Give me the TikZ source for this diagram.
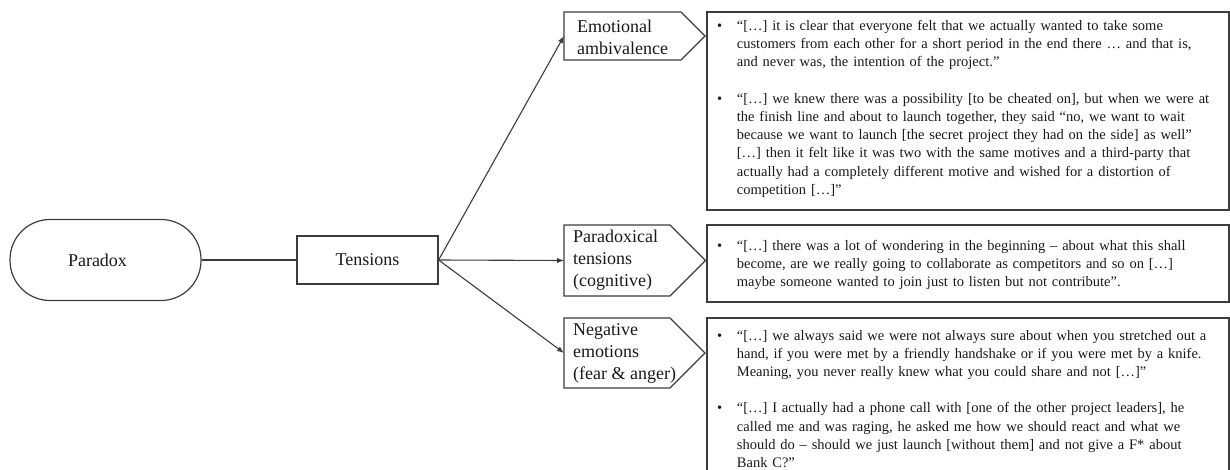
\documentclass[tikz,border=0pt]{standalone}
\usepackage{fontspec}
\setmainfont{Liberation Serif}
\usetikzlibrary{arrows.meta}
\definecolor{linecol}{RGB}{60,60,60}
\definecolor{txtcol}{RGB}{25,25,25}
\newcommand{\qbul}{\makebox[19.7pt][l]{•}}
\newcommand{\qpara}[1]{\hangindent=19.7pt\hangafter=1\noindent\strut\qbul#1\par}
\begin{document}
\begin{tikzpicture}[x=1pt,y=-1pt,
  line/.style={draw=linecol, line width=1.2pt},
  arr/.style={draw=linecol, line width=1.1pt, -{Latex[length=7pt,width=5.5pt]}},
  lbl/.style={font=\fontsize{18}{22}\selectfont, text=txtcol, align=left, inner sep=0pt, anchor=west},
  hold/.style={inner sep=0pt, outer sep=0pt},
  qbox/.style={line, inner sep=0pt, outer sep=0pt, anchor=north west, minimum width=522pt},
  qtext/.style={text width=505pt, inner sep=0pt, anchor=north west, text=txtcol,
    font=\fontsize{14.5}{18.2}\selectfont}
]
\useasboundingbox (0,0) rectangle (1230,470);
\clip (0,0) rectangle (1230,470);

% left part
\node[line, rounded corners=40pt, minimum width=191pt, minimum height=81pt,
  font=\fontsize{18}{22}\selectfont, text=txtcol] (paradox) at (105.5,260) {Paradox\hspace*{16pt}};
\node[line, minimum width=141pt, minimum height=48pt,
  font=\fontsize{18}{22}\selectfont, text=txtcol] (tensions) at (367.5,260) {Tensions};
\draw[line] (paradox.east) -- (tensions.west);

% category boxes (pentagons)
\node[hold, minimum width=117pt, minimum height=48pt] (emo) at (622.5,36) {};
\draw[line] (emo.north west) -- (emo.north east) -- ++(24,24) -- (emo.south east) -- (emo.south west) -- cycle;
\node[lbl] (emoT) at ([xshift=13pt,yshift=-1pt]emo.west) {Emotional\\ambivalence};

\node[hold, minimum width=106pt, minimum height=71pt] (par) at (617,260.5) {};
\draw[line] (par.north west) -- (par.north east) -- ++(35.5,35.5) -- (par.south east) -- (par.south west) -- cycle;
\node[lbl] (parT) at ([xshift=9pt]par.west) {Paradoxical\\tensions\\(cognitive)};

\node[hold, minimum width=106pt, minimum height=70pt] (neg) at (617,353) {};
\draw[line] (neg.north west) -- (neg.north east) -- ++(35,35) -- (neg.south east) -- (neg.south west) -- cycle;
\node[lbl] (negT) at ([xshift=9pt]neg.west) {Negative\\emotions\\(fear \& anger)};

\draw[arr] (tensions.east) -- (emo.west);
\draw[arr] (tensions.east) -- (par.west);
\draw[arr] (tensions.east) -- (neg.west);

% quote boxes
\node[qbox, minimum height=198pt] (q1) at (707,12) {};
\node[qbox, minimum height=77pt] (q2) at (707,225) {};
\node[qbox, minimum height=170pt] (q3) at (707,318) {};

\node[qtext] (q1T) at (717,17.3) {\raggedright
\qpara{“[…] it is clear that everyone felt that we actually wanted to take some\newline
customers from each other for a short period in the end there … and that is,\newline
and never was, the intention of the project.”}
\vspace{18.5pt}
\qpara{“[…] we knew there was a possibility [to be cheated on], but when we were at\newline
the finish line and about to launch together, they said “no, we want to wait\newline
because we want to launch [the secret project they had on the side] as well”\newline
\relax […] then it felt like it was two with the same motives and a third-party that\newline
actually had a completely different motive and wished for a distortion of\newline
competition […]”}};

\node[qtext] (q2T) at (717,237.3) {\raggedright
\qpara{“[…] there was a lot of wondering in the beginning – about what this shall\newline
become, are we really going to collaborate as competitors and so on […]\newline
maybe someone wanted to join just to listen but not contribute”.}};

\node[qtext] (q3T) at (717,327.3) {\raggedright
\qpara{“[…] we always said we were not always sure about when you stretched out a\newline
hand, if you were met by a friendly handshake or if you were met by a knife.\newline
Meaning, you never really knew what you could share and not […]”}
\vspace{18pt}
\qpara{“[…] I actually had a phone call with [one of the other project leaders], he\newline
called me and was raging, he asked me how we should react and what we\newline
should do – should we just launch [without them] and not give a F* about\newline
Bank C?”}};
\end{tikzpicture}
\end{document}
